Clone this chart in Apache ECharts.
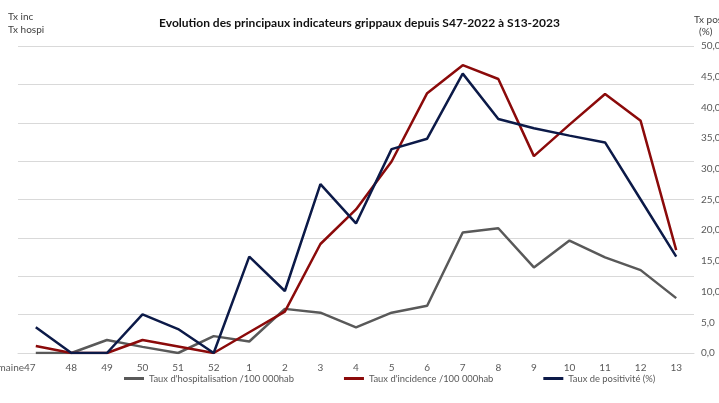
<!DOCTYPE html>
<html><head><meta charset="utf-8">
<script src="https://cdn.jsdelivr.net/npm/echarts@6/dist/echarts.min.js"></script>
<style>html,body{margin:0;padding:0;background:#fff}#c{width:719px;height:403px}</style>
</head><body><div id="c"></div>
<script>
var categories = ['semaine47','48','49','50','51','52','1','2','3','4','5','6','7','8','9','10','11','12','13'];
var hospitalisation = [0, 0, 3.4, 1.6, 0, 4.4, 3.0, 11.5, 10.5, 6.7, 10.5, 12.3, 31.4, 32.5, 22.3, 29.3, 24.9, 21.6, 14.3];
var incidence = [1.8, 0, 0, 3.4, 1.7, 0, 5.4, 10.8, 28.4, 37.4, 49.9, 67.7, 75.0, 71.4, 51.3, 59.5, 67.5, 60.5, 26.8];
var positivite = [4.2, 0, 0, 6.3, 3.9, 0, 15.7, 10.1, 27.5, 21.1, 33.2, 34.9, 45.5, 38.1, 36.6, 35.4, 34.3, 25.0, 15.7];
var seriesNames = ["Taux d'hospitalisation /100 000hab", "Taux d'incidence /100 000hab", "Taux de positivité (%)"];

var FONT = 'Lato';
var chart = echarts.init(document.getElementById('c'), null, {renderer:'canvas'});
chart.setOption({
  animation: false,
  backgroundColor: '#fff',
  textStyle: {fontFamily: FONT},
  title: {
    text: 'Evolution des principaux indicateurs grippaux depuis S47-2022 à S13-2023',
    left: 'center', top: 12,
    textStyle: {fontFamily: FONT, fontWeight: 'bold', fontSize: 12, color: '#111'}
  },
  graphic: [
    {type:'text', left: 8, top: 10, style:{text:'Tx inc\nTx hospi', font:'10px '+FONT, fill:'#404040', lineHeight: 13}},
    {type:'text', left: 694, top: 14, style:{text:'Tx pos\n  (%)', font:'10px '+FONT, fill:'#404040', lineHeight: 12}}
  ],
  legend: {
    bottom: 15, left: 119, itemGap: 50, itemWidth: 20, itemHeight: 3,
    icon: 'rect',
    textStyle: {fontFamily: FONT, fontSize: 9.4, color: '#595959'},
    data: seriesNames
  },
  grid: {left: 18, right: 25, top: 46, bottom: 50, containLabel: false, outerBoundsMode: 'none'},
  xAxis: {
    type: 'category', data: categories, boundaryGap: true,
    axisLine: {show: true, lineStyle: {color: '#d9d9d9'}},
    axisTick: {show: false},
    axisLabel: {
      color: '#595959', fontSize: 10, margin: 10, interval: 0,
      formatter: function(v, i){ return i === 0 ? '{a|' + v + '}' : v; },
      rich: {a: {padding: [0, 48, 0, 0], fontSize: 10, color: '#595959'}}
    }
  },
  yAxis: [
    {type: 'value', min: 0, max: 80, interval: 10,
     axisLabel: {show: false}, axisLine: {show: false}, axisTick: {show: false},
     splitLine: {lineStyle: {color: '#d9d9d9', width: 1}}},
    {type: 'value', min: 0, max: 50, interval: 5, position: 'right',
     axisLabel: {color: '#595959', fontSize: 10, margin: 7,
       formatter: function(v){ return v.toFixed(1).replace('.', ','); }},
     axisLine: {show: false}, axisTick: {show: false}, splitLine: {show: false}}
  ],
  series: [
    {name: seriesNames[0], type: 'line', yAxisIndex: 0, data: hospitalisation, symbol: 'none',
     lineStyle: {color: '#595959', width: 2.5}, itemStyle: {color: '#595959'}, z: 2},
    {name: seriesNames[1], type: 'line', yAxisIndex: 0, data: incidence, symbol: 'none',
     lineStyle: {color: '#8b0a0a', width: 2.5}, itemStyle: {color: '#8b0a0a'}, z: 3},
    {name: seriesNames[2], type: 'line', yAxisIndex: 1, data: positivite, symbol: 'none',
     lineStyle: {color: '#0c1a48', width: 2.5}, itemStyle: {color: '#0c1a48'}, z: 4}
  ]
});
</script></body></html>
